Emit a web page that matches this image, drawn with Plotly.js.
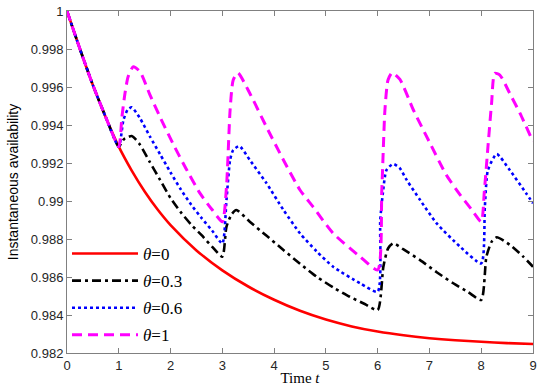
<!DOCTYPE html>
<html>
<head>
<meta charset="utf-8">
<script src="https://cdn.plot.ly/plotly-3.0.1.min.js"></script>
<style>html,body{margin:0;padding:0;background:#fff;}#chart{width:550px;height:391px;}</style>
</head>
<body>
<div id="chart"></div>
<script>
// Series data
var tRed = [0, 0.25, 0.5, 0.75, 1.0, 1.25, 1.5, 1.75, 2.0, 2.5, 3.0, 3.5, 4.0, 4.5, 5.0, 5.5, 6.0, 6.5, 7.0, 7.5, 8.0, 8.5, 9.0];
var aRed = [1, 0.99800, 0.99610, 0.99440, 0.99286, 0.99160, 0.99050, 0.98955, 0.98873, 0.98740, 0.98635, 0.98550, 0.98480, 0.98422, 0.98376, 0.98340, 0.98313, 0.98293, 0.98278, 0.98267, 0.98259, 0.98252, 0.98247];

var tBlack = [0, 0.25, 0.5, 0.75, 1.0, 1.1, 1.25, 1.4, 1.6, 1.8, 2.0, 2.2, 2.4, 2.6, 2.8, 3.0,
              3.08, 3.18, 3.27, 3.53, 3.85, 4.18, 4.5, 4.82, 5.14, 5.46, 5.75, 6.0,
              6.11, 6.2, 6.3, 6.5, 6.82, 7.14, 7.46, 7.75, 8.0,
              8.1, 8.2, 8.3, 8.55, 8.8, 9.0];
var aBlack = [1, 0.99800, 0.99610, 0.99440, 0.99286, 0.99325, 0.99342, 0.99300, 0.99205, 0.99110, 0.99015, 0.98940, 0.98875, 0.98820, 0.98760, 0.98707,
              0.98865, 0.98930, 0.98953, 0.98891, 0.98818, 0.98742, 0.98670, 0.98602, 0.98545, 0.98496, 0.98458, 0.98426,
              0.98654, 0.98750, 0.98777, 0.98745, 0.98689, 0.98625, 0.98567, 0.98520, 0.98479,
              0.98707, 0.98785, 0.98809, 0.98770, 0.98710, 0.98654];

var tBlue = [0, 0.25, 0.5, 0.75, 1.0, 1.09, 1.17, 1.25, 1.4, 1.6, 1.8, 2.0, 2.2, 2.4, 2.6, 2.8, 3.0,
             3.08, 3.15, 3.21, 3.33, 3.53, 3.85, 4.18, 4.5, 4.82, 5.14, 5.66, 6.0,
             6.05, 6.1, 6.17, 6.3, 6.43, 6.56, 6.82, 7.14, 7.59, 8.0,
             8.07, 8.13, 8.3, 8.55, 8.87, 9.0];
var aBlue = [1, 0.99800, 0.99610, 0.99440, 0.99286, 0.99426, 0.99480, 0.99493, 0.99440, 0.99340, 0.99245, 0.99150, 0.99060, 0.98980, 0.98910, 0.98845, 0.98777,
             0.99005, 0.99216, 0.99268, 0.99289, 0.99216, 0.99095, 0.98953, 0.98830, 0.98735, 0.98654, 0.98567, 0.98523,
             0.98900, 0.99040, 0.99163, 0.99195, 0.99172, 0.99111, 0.99005, 0.98882, 0.98760, 0.98672,
             0.98970, 0.99163, 0.99247, 0.99163, 0.99040, 0.98988];

var tPink = [0, 0.25, 0.5, 0.75, 1.0, 1.06, 1.12, 1.18, 1.28, 1.41, 1.6, 1.8, 2.05, 2.3, 2.57, 2.8, 3.0,
             3.08, 3.15, 3.21, 3.3, 3.53, 3.85, 4.18, 4.5, 4.75, 5.14, 5.66, 6.0,
             6.08, 6.14, 6.2, 6.28, 6.43, 6.69, 7.0, 7.33, 7.6, 7.8, 8.0,
             8.06, 8.13, 8.2, 8.26, 8.36, 8.55, 8.75, 9.0];
var aPink = [1, 0.99800, 0.99610, 0.99440, 0.99286, 0.99440, 0.99567, 0.99654, 0.99707, 0.99681, 0.99560, 0.99440, 0.99300, 0.99170, 0.99040, 0.98955, 0.98891,
             0.99075, 0.99479, 0.99637, 0.99675, 0.99567, 0.99391, 0.99216, 0.99058, 0.98970, 0.98830, 0.98707, 0.98637,
             0.99058, 0.99479, 0.99637, 0.99675, 0.99640, 0.99479, 0.99310, 0.99135, 0.99030, 0.98960, 0.98891,
             0.99050, 0.99286, 0.99514, 0.99672, 0.99663, 0.99567, 0.99461, 0.99312];

var seriesNames = ['<i>θ</i>=0', '<i>θ</i>=0.3', '<i>θ</i>=0.6', '<i>θ</i>=1'];
var xTicks = [0, 1, 2, 3, 4, 5, 6, 7, 8, 9];
var yTicks = [0.982, 0.984, 0.986, 0.988, 0.99, 0.992, 0.994, 0.996, 0.998, 1];
var yTickText = ['0.982', '0.984', '0.986', '0.988', '0.99', '0.992', '0.994', '0.996', '0.998', '1'];

var traces = [
  {x: tRed, y: aRed, name: seriesNames[0], legendgroup: 'a', mode: 'lines',
   line: {color: '#ff0000', width: 2.6, shape: 'spline', smoothing: 0.8}},
  {x: tBlack, y: aBlack, name: seriesNames[1], legendgroup: 'b', mode: 'lines',
   line: {color: '#000000', width: 2.6, dash: '9px,4px,3px,4px', shape: 'spline', smoothing: 0.6}},
  {x: tBlue, y: aBlue, name: seriesNames[2], legendgroup: 'c', mode: 'lines',
   line: {color: '#0000ff', width: 2.6, dash: 'dot', shape: 'spline', smoothing: 0.6}},
  {x: tPink, y: aPink, name: seriesNames[3], legendgroup: 'd', mode: 'lines',
   line: {color: '#ff00ff', width: 3, dash: '10px,6px', shape: 'spline', smoothing: 0.6}}
];

var axisCommon = {
  showline: true, linecolor: '#808080', linewidth: 1, mirror: 'ticks',
  ticks: 'inside', ticklen: 5, tickcolor: '#808080', tickwidth: 1,
  showgrid: false, zeroline: false,
  tickfont: {family: 'Liberation Sans, Arial, sans-serif', size: 13, color: '#262626'}
};

var layout = {
  width: 550, height: 391,
  margin: {l: 67, r: 17, t: 11, b: 38},
  paper_bgcolor: '#ffffff', plot_bgcolor: '#ffffff',
  showlegend: true,
  legend: {x: 0, y: 0, xanchor: 'left', yanchor: 'bottom', bgcolor: 'rgba(0,0,0,0)',
           font: {family: 'Liberation Serif, Times New Roman, serif', size: 17, color: '#000'},
           tracegroupgap: 2, itemwidth: 66},
  xaxis: Object.assign({}, axisCommon, {range: [0, 9], tickvals: xTicks,
    title: {text: 'Time <i>t</i>', standoff: 0, font: {family: 'Liberation Serif, Times New Roman, serif', size: 15, color: '#000'}}}),
  yaxis: Object.assign({}, axisCommon, {range: [0.982, 1], tickvals: yTicks, ticktext: yTickText,
    title: {text: 'Instantaneous availability', standoff: 8, font: {family: 'Liberation Sans, Arial, sans-serif', size: 14, color: '#000'}}})
};

Plotly.newPlot('chart', traces, layout, {displayModeBar: false, staticPlot: true});
</script>
</body>
</html>
